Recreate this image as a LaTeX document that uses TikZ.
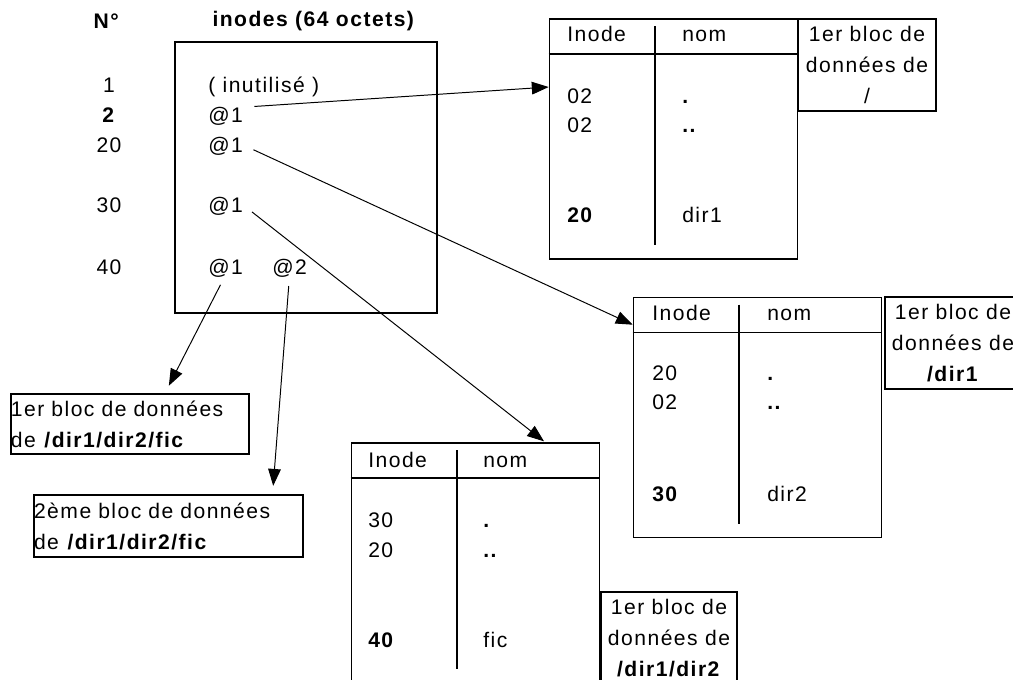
\documentclass[tikz,border=0pt]{standalone}
\usepackage{fontspec}
\setmainfont{Liberation Sans}[LetterSpace=7]
\usetikzlibrary{arrows.meta,positioning}

\begin{document}
\begin{tikzpicture}[x=0.025cm, y=-0.025cm,
    >={Triangle[length=12pt,width=9pt]},
    every node/.style={font=\fontsize{15}{22}\selectfont, inner sep=2pt},
    box/.style={draw, line width=1.1pt, inner sep=0pt},
    tbl/.style={box, minimum width=6.2cm, minimum height=6cm},
    blk/.style={box, align=center, minimum width=3.45cm, minimum height=2.3cm},
    cell/.style={anchor=west, inner sep=0pt, text height=10.7pt, text depth=0pt},
    num/.style={cell, anchor=center},
    ptr/.style={->, line width=0.7pt, shorten <=8pt}]
  \clip (0,0) rectangle (1013,679);

  % table des inodes
  \node (hnum) at (107,21) {\textbf{N°}};
  \node (hino) at (314,21) {\textbf{inodes (64 octets)}};
  \node[box, minimum width=6.55cm, minimum height=6.775cm] (inodes) at (306,177.5) {};

  \node[num] (r1)  at (109,85)  {1};
  \node[num] (r2)  at (109,115) {\textbf{2}};
  \node[num] (r20) at (109,145) {20};
  \node[num] (r30) at (109,205) {30};
  \node[num] (r40) at (109,267) {40};

  \node[cell] (p1)  at (208,85)  {( inutilisé )};
  \node[cell] (p2)  at (208,115) {@1};
  \node[cell] (p20) at (208,145) {@1};
  \node[cell] (p30) at (208,205) {@1};
  \node[cell] (p40) at (208,267) {@1};
  \node[cell] (q40) at (272,267) {@2};

  % repertoire /
  \node[tbl] (t1) at (673.5,139) {};
  \draw[line width=1.1pt] ([yshift=-0.9cm]t1.north west) -- ([yshift=-0.9cm]t1.north east);
  \draw[line width=1.1pt] ([xshift=2.65cm,yshift=-0.2cm]t1.north west) -- ([xshift=2.65cm,yshift=0.36cm]t1.south west);
  \node[cell] (t1ino) at (567,34)  {Inode};
  \node[cell] (t1nom) at (682,34)  {nom};
  \node[cell] (t1i1)  at (567,96)  {02};
  \node[cell] (t1n1)  at (682,96)  {\textbf{.}};
  \node[cell] (t1i2)  at (567,125) {02};
  \node[cell] (t1n2)  at (682,125) {\textbf{..}};
  \node[cell] (t1i3)  at (567,215) {\textbf{20}};
  \node[cell] (t1n3)  at (682,215) {dir1};
  \node[blk] (l1) at (867,65) {1er bloc de\\données de\\/};

  % repertoire /dir1
  \node[tbl] (t2) at (757.5,417.5) {};
  \draw[line width=1.1pt] ([yshift=-0.9cm]t2.north west) -- ([yshift=-0.9cm]t2.north east);
  \draw[line width=1.1pt] ([xshift=2.65cm,yshift=-0.2cm]t2.north west) -- ([xshift=2.65cm,yshift=0.36cm]t2.south west);
  \node[cell] (t2ino) at (652,313) {Inode};
  \node[cell] (t2nom) at (767,313) {nom};
  \node[cell] (t2i1)  at (652,373) {20};
  \node[cell] (t2n1)  at (767,373) {\textbf{.}};
  \node[cell] (t2i2)  at (652,402) {02};
  \node[cell] (t2n2)  at (767,402) {\textbf{..}};
  \node[cell] (t2i3)  at (652,494) {\textbf{30}};
  \node[cell] (t2n3)  at (767,494) {dir2};
  \node[blk, minimum width=3.4cm] (l2) at (953,343) {1er bloc de\\données de\\\textbf{/dir1}};

  % repertoire /dir1/dir2
  \node[tbl] (t3) at (475.5,563) {};
  \draw[line width=1.1pt] ([yshift=-0.9cm]t3.north west) -- ([yshift=-0.9cm]t3.north east);
  \draw[line width=1.1pt] ([xshift=2.65cm,yshift=-0.2cm]t3.north west) -- ([xshift=2.65cm,yshift=0.36cm]t3.south west);
  \node[cell] (t3ino) at (368,460) {Inode};
  \node[cell] (t3nom) at (483,460) {nom};
  \node[cell] (t3i1)  at (368,520) {30};
  \node[cell] (t3n1)  at (483,520) {\textbf{.}};
  \node[cell] (t3i2)  at (368,550) {20};
  \node[cell] (t3n2)  at (483,550) {\textbf{..}};
  \node[cell] (t3i3)  at (368,640) {\textbf{40}};
  \node[cell] (t3n3)  at (483,640) {fic};
  \node[blk, minimum width=3.4cm] (l3) at (669,638) {1er bloc de\\données de\\\textbf{/dir1/dir2}};

  % blocs du fichier
  \node[box, text width=5.95cm, align=left, minimum height=1.5cm] (blkA) at (130,424)
    {1er bloc de données\\de \textbf{/dir1/dir2/fic}};
  \node[box, text width=6.72cm, align=left, minimum height=1.55cm] (blkB) at (168.5,526)
    {2ème bloc de données\\de \textbf{/dir1/dir2/fic}};

  \draw[ptr] (p2.north east) -- ([yshift=-1.72cm]t1.north west);
  \draw[ptr] (p20.east) -- ([yshift=-0.7cm]t2.north west);
  \draw[ptr, shorten >=1pt] (p30.east) -- ([xshift=1.74cm]t3.north);
  \draw[ptr, shorten >=6pt] (p40.south) -- ([xshift=0.875cm]blkA.north);
  \draw[ptr, shorten >=6pt] (q40.south) -- ([xshift=2.6cm]blkB.north);
\end{tikzpicture}
\end{document}
